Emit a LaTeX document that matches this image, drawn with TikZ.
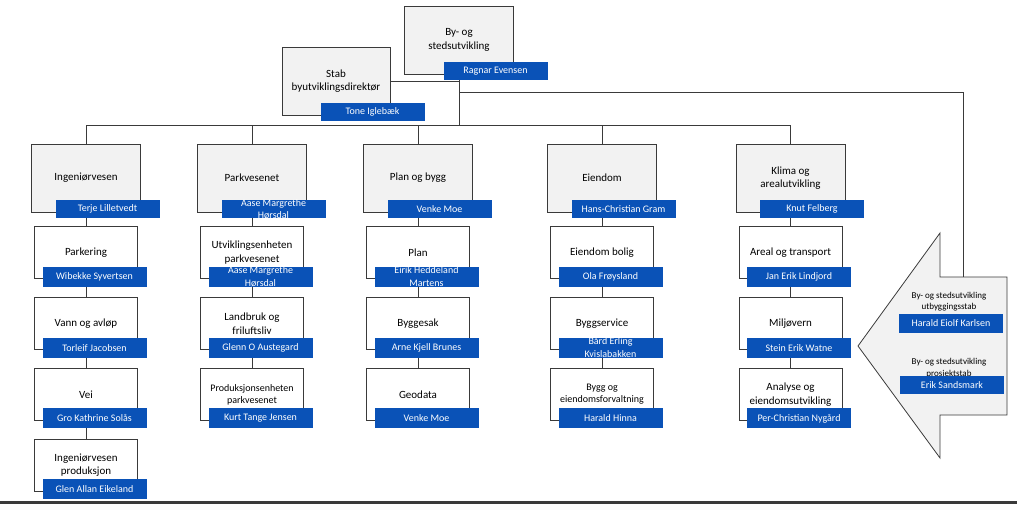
\documentclass[tikz,border=0pt]{standalone}
\usepackage{fontspec}
\setmainfont{Carlito}
\usetikzlibrary{positioning,calc,backgrounds}
\definecolor{orgBlue}{HTML}{0A52B7}
\definecolor{orgGray}{HTML}{F2F2F2}
\definecolor{orgLine}{HTML}{3A3A3A}

\begin{document}
\begin{tikzpicture}[x=1pt,y=1pt,
   unit/.style={draw=orgLine,line width=0.8pt,fill=orgGray,minimum width=109pt,
                minimum height=68pt,inner sep=2pt,align=center,
                font=\fontsize{11}{13.5}\selectfont},
   subunit/.style={draw=orgLine,line width=0.8pt,fill=white,minimum width=103pt,
                minimum height=52pt,inner sep=2pt,align=center,
                font=\fontsize{11}{13.5}\selectfont},
   small/.style={font=\fontsize{10}{12}\selectfont},
   namebar/.style={fill=orgBlue,text=white,minimum width=104pt,minimum height=18pt,
                inner sep=0pt,font=\fontsize{10}{12}\selectfont},
   subbar/.style={namebar,minimum height=20pt},
   nametext/.style={text=white,inner sep=0pt,align=center,
                font=\fontsize{10}{12.5}\selectfont},
   stabtext/.style={inner sep=0pt,align=center,font=\fontsize{9}{11.5}\selectfont},
   link/.style={draw=orgLine,line width=0.8pt}]
  \useasboundingbox (0,0) rectangle (1017,504);

  % top of the tree
  \node[unit] (byst) at (459,464) {By- og\\stedsutvikling};
  \node[namebar] (ragnar) at ([shift={(36.5,-31)}]byst.center) {Ragnar Evensen};
  \node[unit,minimum width=108pt] (stab) at (336,423) {Stab\\byutviklingsdirektør};
  \node[namebar] (tone) at ([shift={(36.5,-31)}]stab.center) {Tone Iglebæk};

  % Ingeniørvesen
  \node[unit] (ing) at (86,326) {Ingeniørvesen};
  \node[namebar] (terje) at ([shift={(21.5,-31)}]ing.center) {Terje Lilletvedt};
  \node[subunit,below=14pt of ing] (parkering) {Parkering};
  \node[subbar] (wibekke) at ([shift={(8.5,-24)}]parkering.center) {Wibekke Syvertsen};
  \node[subunit,below=18pt of parkering] (vann) {Vann og avløp};
  \node[subbar] (torleif) at ([shift={(8.5,-24)}]vann.center) {Torleif Jacobsen};
  \node[subunit,below=18pt of vann] (vei) {Vei};
  \node[subbar] (gro) at ([shift={(8.5,-24)}]vei.center) {Gro Kathrine Solås};
  \node[subunit,below=18pt of vei] (ingprod) {Ingeniørvesen\\produksjon};
  \node[subbar] (glen) at ([shift={(8.5,-24)}]ingprod.center) {Glen Allan Eikeland};

  % Parkvesenet
  \node[unit] (park) at (252,326) {Parkvesenet};
  \node[namebar] (aase) at ([shift={(21.5,-31)}]park.center) {};
  \node[nametext] (aaset) at (aase) {Aase Margrethe\\Hørsdal};
  \node[subunit,below=14pt of park] (utvikl) {Utviklingsenheten\\parkvesenet};
  \node[subbar] (aase2) at ([shift={(8.5,-24)}]utvikl.center) {};
  \node[nametext] (aase2t) at (aase2) {Aase Margrethe\\Hørsdal};
  \node[subunit,below=18pt of utvikl] (landbruk) {Landbruk og\\friluftsliv};
  \node[subbar] (glenn) at ([shift={(8.5,-24)}]landbruk.center) {Glenn O Austegard};
  \node[subunit,small,below=18pt of landbruk] (prod) {Produksjonsenheten\\parkvesenet};
  \node[subbar] (kurt) at ([shift={(8.5,-24)}]prod.center) {Kurt Tange Jensen};

  % Plan og bygg
  \node[unit] (planbygg) at (418,326) {Plan og bygg};
  \node[namebar] (venke) at ([shift={(21.5,-31)}]planbygg.center) {Venke Moe};
  \node[subunit,below=14pt of planbygg] (plan) {Plan};
  \node[subbar] (eirik) at ([shift={(8.5,-24)}]plan.center) {};
  \node[nametext] (eirikt) at (eirik) {Eirik Heddeland\\Martens};
  \node[subunit,below=18pt of plan] (byggesak) {Byggesak};
  \node[subbar] (arne) at ([shift={(8.5,-24)}]byggesak.center) {Arne Kjell Brunes};
  \node[subunit,below=18pt of byggesak] (geodata) {Geodata};
  \node[subbar] (venke2) at ([shift={(8.5,-24)}]geodata.center) {Venke Moe};

  % Eiendom
  \node[unit] (eiendom) at (602,326) {Eiendom};
  \node[namebar] (hans) at ([shift={(21.5,-31)}]eiendom.center) {Hans-Christian Gram};
  \node[subunit,below=14pt of eiendom] (bolig) {Eiendom bolig};
  \node[subbar] (ola) at ([shift={(8.5,-24)}]bolig.center) {Ola Frøysland};
  \node[subunit,below=18pt of bolig] (service) {Byggservice};
  \node[subbar] (baard) at ([shift={(8.5,-24)}]service.center) {};
  \node[nametext] (baardt) at (baard) {Bård Erling\\Kvislabakken};
  \node[subunit,small,below=18pt of service] (forvalt) {Bygg og\\eiendomsforvaltning};
  \node[subbar] (harh) at ([shift={(8.5,-24)}]forvalt.center) {Harald Hinna};

  % Klima og arealutvikling
  \node[unit] (klima) at (790.5,326) {Klima og\\arealutvikling};
  \node[namebar] (knut) at ([shift={(21.5,-31)}]klima.center) {Knut Felberg};
  \node[subunit,below=14pt of klima] (areal) {Areal og transport};
  \node[subbar] (jan) at ([shift={(8.5,-24)}]areal.center) {Jan Erik Lindjord};
  \node[subunit,below=18pt of areal] (miljo) {Miljøvern};
  \node[subbar] (stein) at ([shift={(8.5,-24)}]miljo.center) {Stein Erik Watne};
  \node[subunit,below=18pt of miljo] (analyse) {Analyse og\\eiendomsutvikling};
  \node[subbar] (per) at ([shift={(8.5,-24)}]analyse.center) {Per-Christian Nygård};

  % staff arrow on the right
  \coordinate (arrtop) at (963,227);
  \draw[link,fill=orgGray] (858,158) -- (940,271) -- (940,227) -- (1007,227)
    -- (1007,89) -- (940,89) -- (940,46) -- cycle;
  \node[stabtext] (utbtxt) at (949,202.5) {By- og stedsutvikling\\utbyggingsstab};
  \node[namebar,minimum height=19pt] (harald) at (951,180.5) {Harald Eiolf Karlsen};
  \node[stabtext] (prostxt) at (949,136) {By- og stedsutvikling\\prosjektstab};
  \node[namebar] (erik) at (952,119) {Erik Sandsmark};

  % connectors
  \begin{scope}[on background layer]
    \coordinate (bus) at (0,379);
    \coordinate (tap) at ([yshift=-18pt]byst.south);
    \draw[link] (stab.east) -- (stab.east -| byst.south);
    \draw[link] (byst.south) -- (byst.south |- bus);
    \draw[link] (tap) -| (arrtop);
    \draw[link] (ing.north |- bus) -- (klima.north |- bus);
    \draw[link] (ing.north) -- (ing.north |- bus);
    \draw[link] (park.north) -- (park.north |- bus);
    \draw[link] (planbygg.north) -- (planbygg.north |- bus);
    \draw[link] (eiendom.north) -- (eiendom.north |- bus);
    \draw[link] (klima.north) -- (klima.north |- bus);
    \draw[link] (ing) -- (parkering) -- (vann) -- (vei) -- (ingprod);
    \draw[link] (park) -- (utvikl) -- (landbruk) -- (prod);
    \draw[link] (planbygg) -- (plan) -- (byggesak) -- (geodata);
    \draw[link] (eiendom) -- (bolig) -- (service) -- (forvalt);
    \draw[link] (klima) -- (areal) -- (miljo) -- (analyse);
  \end{scope}

  % footer rule
  \fill[orgLine] (0,0) rectangle (1017,3.5);
\end{tikzpicture}
\end{document}
